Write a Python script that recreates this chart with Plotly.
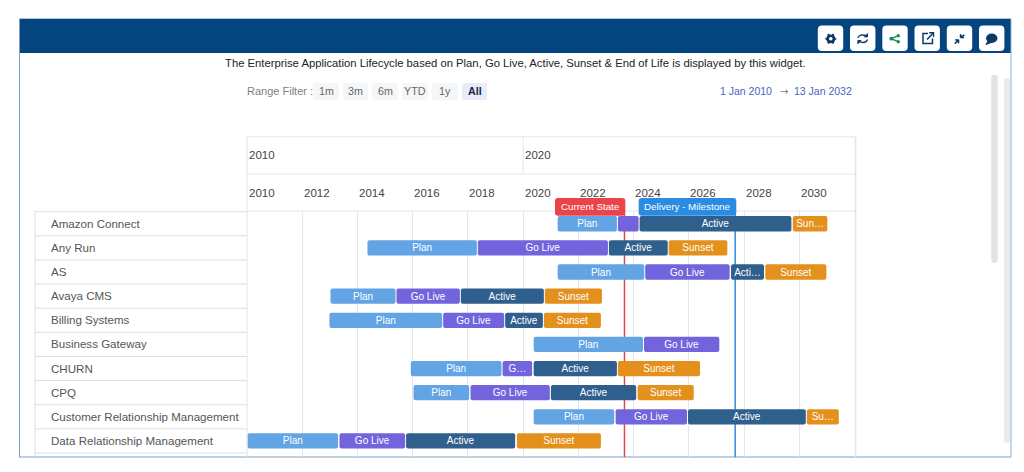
import pandas as pd
import plotly.graph_objects as go

# ---------- data ----------
applications = ["Amazon Connect", "Any Run", "AS", "Avaya CMS", "Billing Systems", "Business Gateway",
                "CHURN", "CPQ", "Customer Relationship Management", "Data Relationship Management"]

plan_start = ["2021-04-01", "2014-05-13", "2021-04-01", "2013-01-09", "2012-12-26", "2020-05-19",
              "2015-12-07", "2016-01-12", "2020-05-19", "2010-01-10"]
plan_end = ["2023-05-25", "2018-04-29", "2024-05-20", "2015-05-19", "2017-01-25", "2024-05-04",
            "2019-03-21", "2018-01-17", "2023-04-19", "2013-04-19"]
golive_start = ["2023-06-07", "2018-05-12", "2024-06-02", "2015-06-01", "2017-02-07", "2024-05-17",
                "2019-04-04", "2018-02-04", "2023-05-08", "2013-05-08"]
golive_end = ["2024-03-07", "2023-01-26", "2027-06-24", "2017-09-16", "2019-04-25", "2027-02-07",
              "2020-04-29", "2020-12-19", "2025-12-07", "2015-09-23"]
active_start = ["2024-03-20", "2023-02-08", "2027-07-12", "2017-09-29", "2019-05-08", None,
                "2020-05-19", "2021-01-02", "2025-12-20", "2015-10-06"]
active_end = ["2029-09-17", "2025-03-27", "2028-09-20", "2020-10-01", "2020-09-18", None,
              "2023-05-25", "2024-02-04", "2030-03-27", "2019-09-17"]
sunset_start = ["2029-10-06", "2025-04-09", "2028-10-07", "2020-10-14", "2020-10-01", None,
                "2023-06-07", "2024-02-23", "2030-04-09", "2019-10-10"]
sunset_end = ["2031-01-06", "2027-05-24", "2030-12-24", "2022-11-08", "2022-10-25", None,
              "2026-05-28", "2026-03-06", "2031-06-06", "2022-10-25"]

plan_text = ["Plan"] * 10
golive_text = ["", "Go Live", "Go Live", "Go Live", "Go Live", "Go Live", "G…", "Go Live", "Go Live", "Go Live"]
active_text = ["Active", "Active", "Acti…", "Active", "Active", "", "Active", "Active", "Active", "Active"]
sunset_text = ["Sun…", "Sunset", "Sunset", "Sunset", "Sunset", "", "Sunset", "Sunset", "Su…", "Sunset"]

year_ticks = ["2010", "2012", "2014", "2016", "2018", "2020", "2022", "2024", "2026", "2028", "2030"]
decade_ticks = ["2010", "2020"]
range_start, range_end = "2010-01-01", "2032-01-13"
current_state_date = "2023-09-02"
milestone_date = "2027-09-05"
range_buttons = ["1m", "3m", "6m", "YTD", "1y", "All"]

# ---------- helpers ----------
W, H = 1024, 472
def X(p): return p / W
def Y(p): return 1 - p / H

def rrect(x0, y0, x1, y1, r, fill, line=None, lw=0, layer="above"):
    d = (f"M{X(x0+r)},{Y(y0)} L{X(x1-r)},{Y(y0)} Q{X(x1)},{Y(y0)} {X(x1)},{Y(y0+r)} "
         f"L{X(x1)},{Y(y1-r)} Q{X(x1)},{Y(y1)} {X(x1-r)},{Y(y1)} L{X(x0+r)},{Y(y1)} "
         f"Q{X(x0)},{Y(y1)} {X(x0)},{Y(y1-r)} L{X(x0)},{Y(y0+r)} Q{X(x0)},{Y(y0)} {X(x0+r)},{Y(y0)} Z")
    return dict(type="path", xref="paper", yref="paper", path=d, fillcolor=fill,
                line=dict(color=line or fill, width=lw), layer=layer)

def pline(x0, y0, x1, y1, color, w=1, layer="below"):
    return dict(type="line", xref="paper", yref="paper", x0=X(x0), x1=X(x1), y0=Y(y0), y1=Y(y1),
                line=dict(color=color, width=w), layer=layer)

def stroke(points, color, w=1.6, close=False, fill=None):
    d = "M" + " L".join(f"{X(a)},{Y(b)}" for a, b in points) + (" Z" if close else "")
    return dict(type="path", xref="paper", yref="paper", path=d,
                line=dict(color=color, width=w), fillcolor=fill or "rgba(0,0,0,0)", layer="above")

def disc(cx, cy, r, fill):
    return rrect(cx-r, cy-r, cx+r, cy+r, r, fill)

def arc(x0, y0, cx, cy, x1, y1, color, w=1.7):
    d = f"M{X(x0)},{Y(y0)} Q{X(cx)},{Y(cy)} {X(x1)},{Y(y1)}"
    return dict(type="path", xref="paper", yref="paper", path=d, line=dict(color=color, width=w),
                fillcolor="rgba(0,0,0,0)", layer="above")

def label(x, y, text, size=11.5, color="#444444", anchor="left", family="Liberation Sans", **kw):
    return dict(x=X(x), y=Y(y), xref="paper", yref="paper", text=text, showarrow=False, xanchor=anchor,
                yanchor="middle", font=dict(size=size, color=color, family=family), **kw)

# ---------- bars ----------
fig = go.Figure()
stages = [("Plan", plan_start, plan_end, plan_text, "#63a4e5"),
          ("Go Live", golive_start, golive_end, golive_text, "#7264dc"),
          ("Active", active_start, active_end, active_text, "#2f5f8c"),
          ("Sunset", sunset_start, sunset_end, sunset_text, "#e3901c")]
for name, starts, ends, texts, color in stages:
    rows = [i for i, s in enumerate(starts) if s is not None]
    base = [starts[i] for i in rows]
    dur = [(pd.Timestamp(ends[i]) - pd.Timestamp(starts[i])).total_seconds() * 1000 for i in rows]
    fig.add_trace(go.Bar(
        name=name, orientation="h", y=[applications[i] for i in rows], x=dur, base=base, width=0.634,
        text=[texts[i] for i in rows], textposition="inside", insidetextanchor="middle", textangle=0,
        constraintext="none", textfont=dict(size=10, color="white", family="Liberation Sans"),
        marker=dict(color=color, cornerradius=2, line=dict(width=0)), showlegend=False,
    ))

grid = "#e4e6ee"
rowline = "#dcdfe6"
shapes, ann = [], []

# frame and header band
shapes.append(dict(type="rect", xref="paper", yref="paper", x0=X(19), x1=X(1011), y0=Y(53), y1=Y(19),
                   fillcolor="#05457f", line=dict(width=0), layer="below"))
shapes += [pline(19.5, 19, 19.5, 457, "#7f9fbd"), pline(1011, 19, 1011, 457, "#8fb2d0"),
           pline(19, 457, 1011, 457, "#7f9fbd"), pline(19, 18.5, 1011, 18.5, "#a9cbe8")]

# toolbar buttons
dark = "#0c3a66"
for cx in [830.5, 862.7, 895, 927.2, 959.5, 991.7]:
    shapes.append(rrect(cx-12.7, 25.5, cx+12.7, 51, 4, "white"))
# gear
gx, gy = 830.8, 38.8
shapes += [disc(gx, gy, 4.4, dark),
           stroke([(gx-5.4, gy), (gx+5.4, gy)], dark, 2),
           stroke([(gx-2.7, gy-4.7), (gx+2.7, gy+4.7)], dark, 2),
           stroke([(gx+2.7, gy-4.7), (gx-2.7, gy+4.7)], dark, 2),
           disc(gx, gy, 1.8, "white")]
# refresh
rx, ry = 862.7, 38.7
shapes += [arc(rx-4.8, ry-0.8, rx-3.5, ry-5.2, rx+3.8, ry-3, dark, 1.4),
           arc(rx+4.8, ry+0.8, rx+3.5, ry+5.2, rx-3.8, ry+3, dark, 1.4),
           stroke([(rx+4.8, ry-5), (rx+4.8, ry-1.8), (rx+1.8, ry-1.8)], dark, 1, True, dark),
           stroke([(rx-4.8, ry+5), (rx-4.8, ry+1.8), (rx-1.8, ry+1.8)], dark, 1, True, dark)]
# share
green = "#1c8a5a"
shapes += [pline(891.3, 38.7, 898.3, 35.7, green, 1.3, "above"), pline(891.3, 38.7, 898.3, 41.8, green, 1.3, "above"),
           disc(891.3, 38.7, 1.9, green), disc(898.3, 35.7, 1.7, green), disc(898.3, 41.8, 1.7, green)]
# external link
shapes += [stroke([(928, 33.5), (923, 33.5), (923, 43.5), (932.5, 43.5), (932.5, 38.5)], dark, 1.5),
           stroke([(927, 39.5), (933, 33.2)], dark, 1.5), stroke([(929.2, 32.7), (933.5, 32.7), (933.5, 37)], dark, 1.4)]
# compress
shapes += [stroke([(954.8, 43.8), (957.3, 41.3)], dark, 1.5),
           stroke([(955.4, 39.8), (958.8, 39.8), (958.8, 43.2)], dark, 1, True, dark),
           stroke([(961.8, 37.2), (964.3, 34.7)], dark, 1.5),
           stroke([(960.3, 34.2), (960.3, 37.8), (963.9, 37.8)], dark, 1, True, dark)]
# chat
shapes += [dict(type="circle", xref="paper", yref="paper", x0=X(986), x1=X(997.5), y0=Y(43), y1=Y(33.5),
                fillcolor=dark, line=dict(width=0), layer="above"),
           stroke([(988, 41), (986, 44.5), (991, 42.5)], dark, 1, True, dark)]

ann.append(label(515, 63, "The Enterprise Application Lifecycle based on Plan, Go Live, Active, Sunset &amp; End of Life is displayed by this widget.",
                 11.27, "#222222", "center"))

# range filter
ann.append(label(244.5, 91, "Range Filter :", 11, "#808080"))
for text, x0, x1 in zip(range_buttons, [313, 343, 372, 402, 432, 462], [339, 368, 398, 428, 458, 487]):
    is_all = text == "All"
    shapes.append(rrect(x0, 83, x1, 100, 2, "#e8ebfa" if is_all else "#f5f6f7"))
    ann.append(label((x0 + x1) / 2, 91.3, f"<b>{text}</b>" if is_all else text, 10.7,
                     "#222244" if is_all else "#666666", "center"))
date_blue = "#4a62c4"
ann.append(label(718, 91, "1 Jan 2010", 10.5, date_blue))
ann.append(label(783.7, 91, "→", 10, "#777777", "center", "DejaVu Sans"))
ann.append(label(854, 91, "13 Jan 2032", 10.5, date_blue, "right"))

# timeline header
for y in [136.8, 174, 211]:
    shapes.append(pline(247, y, 855.5, y, grid, 1))
shapes += [pline(247, 136.8, 247, 457, grid), pline(855.5, 136.8, 855.5, 457, grid, 1.6)]
for t in decade_ticks:
    shapes.append(dict(type="line", xref="x", yref="paper", x0=t + "-01-01", x1=t + "-01-01",
                       y0=Y(174), y1=Y(136.8), line=dict(color=grid, width=1), layer="below"))
    ann.append(dict(x=t + "-01-01", y=Y(155.3), xref="x", yref="paper", text=t, showarrow=False, xanchor="left",
                    yanchor="middle", xshift=-0.5, font=dict(size=11.5, color="#444444", family="Liberation Sans")))
for t in year_ticks:
    ann.append(dict(x=t + "-01-01", y=Y(193), xref="x", yref="paper", text=t, showarrow=False, xanchor="left",
                    yanchor="middle", xshift=-0.5, font=dict(size=11.5, color="#444444", family="Liberation Sans")))

# left table
for i in range(11):
    y = 211.7 + 24.13 * i
    shapes.append(pline(35, y, 247, y, rowline))
shapes.append(pline(35, 211, 35, 457, rowline))
for i, name in enumerate(applications):
    ann.append(dict(x=X(49), y=name, xref="paper", yref="y", text=name, showarrow=False, xanchor="left",
                    yanchor="middle", font=dict(size=11.57, color="#555555", family="Liberation Sans")))

# marker lines and flags
for d, color in [(current_state_date, "#dc4a52"), (milestone_date, "#2f8ddf")]:
    shapes.append(dict(type="line", xref="x", yref="paper", x0=d, x1=d, y0=Y(457), y1=Y(214),
                       line=dict(color=color, width=1.5), layer="below"))
shapes.append(rrect(555, 198, 625.3, 215.7, 3, "#e9444a"))
shapes.append(rrect(638.7, 198, 736.3, 215.7, 3, "#2a8be3"))
ann.append(label(590, 206.5, "Current State", 9.8, "white", "center"))
ann.append(label(687.5, 206.5, "Delivery - Milestone", 9.8, "white", "center"))

# scrollbars
shapes.append(rrect(991.3, 75, 997.7, 262.7, 2, "#e2e2e2"))
shapes.append(rrect(1004, 78, 1010, 442.7, 2, "#ebebeb"))

fig.update_layout(
    width=W, height=H, autosize=False, margin=dict(l=0, r=0, t=0, b=0),
    paper_bgcolor="white", plot_bgcolor="white", barmode="overlay", showlegend=False,
    shapes=shapes, annotations=ann,
    xaxis=dict(type="date", domain=[X(247), X(855.5)], range=[range_start, range_end],
               tickvals=[t + "-01-01" for t in year_ticks], ticktext=year_ticks, showticklabels=False,
               showgrid=True, gridcolor=grid, gridwidth=1, zeroline=False, showline=False, ticks="",
               anchor="y"),
    yaxis=dict(type="category", categoryorder="array", categoryarray=applications,
               domain=[Y(457), Y(211.7)], range=[9.666, -0.5], showticklabels=False, showgrid=False,
               zeroline=False, showline=False, ticks=""),
)
fig.write_html("out.html", config=dict(displayModeBar=False),
               post_script="document.body.style.margin='0';document.body.style.overflow='hidden';")
